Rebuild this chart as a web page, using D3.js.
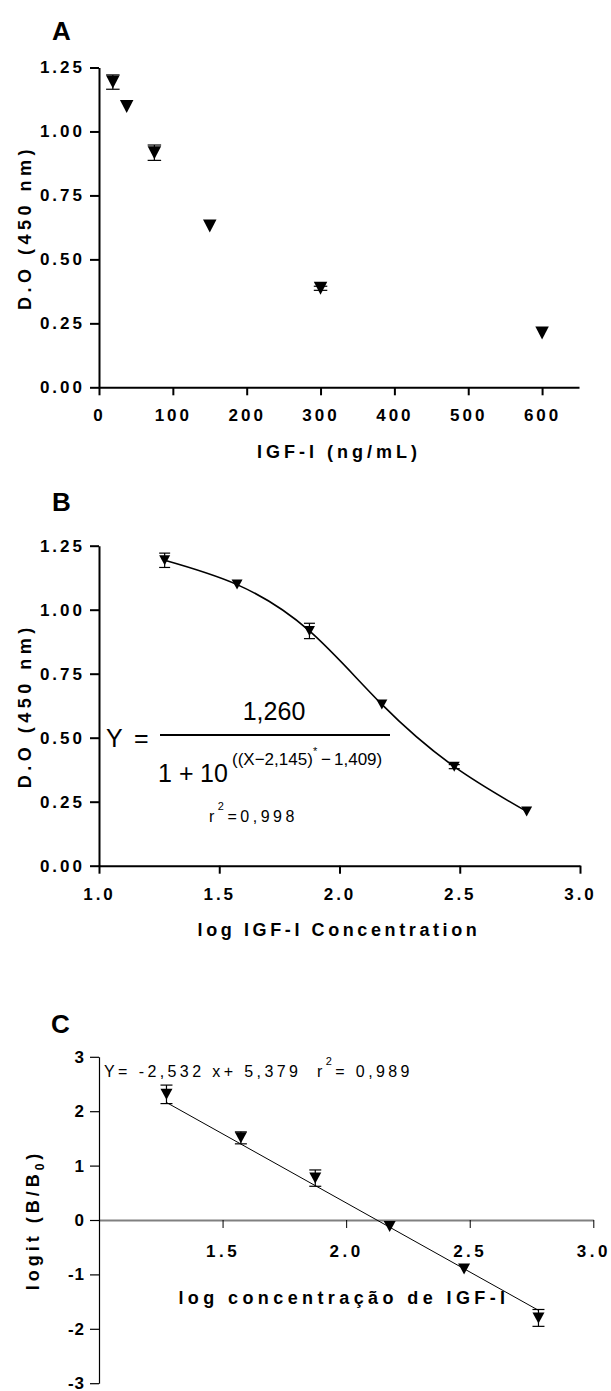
<!DOCTYPE html>
<html>
<head>
<meta charset="utf-8">
<script src="https://cdn.jsdelivr.net/npm/d3@7"></script>
<style>
	body { margin: 0; background: #fff; }
	svg { display: block; }
	text { font-family: "Liberation Sans", Arial, sans-serif; fill: #000; }
</style>
</head>
<body>
<svg id="fig" width="611" height="1391" viewBox="0 0 611 1391"></svg>
<script>
// IGF-I standards (ng/mL)
const conc = [18.75, 37.5, 75, 150, 300, 600];
// optical density at 450 nm, mean and error
const odMean = [1.193, 1.098, 0.917, 0.630, 0.387, 0.212];
const odErr = [0.028, 0, 0.030, 0, 0.008, 0];
// logit(B/B0), mean and error
const logitMean = [2.31, 1.51, 0.77, -0.12, -0.90, -1.80];
const logitErr = [0.17, 0.11, 0.15, 0, 0, 0.155];
// ends of the regression line in panel C
const fitC = [[1.273, 2.16], [2.778, -1.66]];

// tick values
const ticksAx = [0, 100, 200, 300, 400, 500, 600];
const ticksOD = [0, 0.25, 0.5, 0.75, 1, 1.25];
const ticksBx = [1, 1.5, 2, 2.5, 3];
const ticksCx = [1.5, 2, 2.5, 3];
const ticksCy = [-3, -2, -1, 0, 1, 2, 3];

const logConc = conc.map(Math.log10);

const svg = d3.select('#fig');
svg.append('rect').attr('width', 611).attr('height', 1391).attr('fill', '#fff');

function triangle(w, h) {
	return `M${-w/2},${-h/2}L${w/2},${-h/2}L0,${h/2}Z`;
}

// error bars first, markers on top
function drawPoints(xs, means, errs, x, y, w, h) {
	const pts = xs.map((v, i) => ({x: v, m: means[i], e: errs[i]}));
	const g = svg.append('g');
	const bars = g.append('g').attr('stroke', '#000').attr('stroke-width', 1.2);
	pts.filter(d => d.e > 0).forEach(d => {
		const cx = x(d.x);
		bars.append('line').attr('x1', cx).attr('x2', cx)
			.attr('y1', y(d.m - d.e)).attr('y2', y(d.m + d.e));
		[d.m - d.e, d.m + d.e].forEach(v => {
			bars.append('line').attr('x1', cx - w/2).attr('x2', cx + w/2)
				.attr('y1', y(v)).attr('y2', y(v));
		});
	});
	g.selectAll('path.mk').data(pts).join('path')
		.attr('class', 'mk')
		.attr('d', triangle(w, h))
		.attr('transform', d => `translate(${x(d.x)},${y(d.m)})`)
		.attr('fill', '#000');
}

function styleAxis(g, lw, ls) {
	g.attr('font-size', 17).attr('font-weight', 'bold');
	g.select('.domain').attr('stroke-width', lw);
	g.selectAll('.tick line').attr('stroke-width', lw);
	g.selectAll('.tick text').style('letter-spacing', ls + 'px');
}

function label(txt, x, y, opts) {
	const t = svg.append('text').attr('x', x).attr('y', y).text(txt);
	Object.entries(opts || {}).forEach(([k, v]) => t.style(k, v));
	return t;
}

function panelLetter(txt, x, y) {
	label(txt, x, y, {'font-size': '26px', 'font-weight': 'bold'});
}

function yTitle(txt, x, y) {
	return svg.append('text')
		.attr('transform', `translate(${x},${y}) rotate(-90)`)
		.attr('text-anchor', 'middle')
		.style('font-size', '18px').style('font-weight', 'bold')
		.style('letter-spacing', '4.5px')
		.text(txt);
}

function xTitle(txt, x, y, ls) {
	return label(txt, x, y, {'font-size': '18px', 'font-weight': 'bold', 'letter-spacing': ls + 'px'})
		.attr('text-anchor', 'middle');
}

// ---------- panel A ----------
const xA = d3.scaleLinear([0, 650], [99, 579]);
const yA = d3.scaleLinear([0, 1.25], [387.3, 67.5]);

svg.append('g').attr('transform', `translate(0,${yA(0)})`)
	.call(d3.axisBottom(xA).tickValues(ticksAx).tickSize(8).tickSizeOuter(0).tickPadding(14).tickFormat(d3.format('d')))
	.call(g => styleAxis(g, 2, 3));
svg.append('g').attr('transform', `translate(${xA(0)},0)`)
	.call(d3.axisLeft(yA).tickValues(ticksOD).tickSize(9).tickSizeOuter(0).tickPadding(5).tickFormat(d3.format('.2f')))
	.call(g => styleAxis(g, 2, 3));

drawPoints(conc, odMean, odErr, xA, yA, 13.5, 13);

panelLetter('A', 52, 40);
yTitle('D.O (450 nm)', 31, (yA(0) + yA(1.25)) / 2);
xTitle('IGF-I (ng/mL)', 339, 458, 4);

// ---------- panel B ----------
const xB = d3.scaleLinear([1, 3], [99, 580]);
const yB = d3.scaleLinear([0, 1.25], [865.7, 545.7]);

svg.append('g').attr('transform', `translate(0,${yB(0)})`)
	.call(d3.axisBottom(xB).tickValues(ticksBx).tickSize(8).tickSizeOuter(0).tickPadding(14).tickFormat(d3.format('.1f')))
	.call(g => styleAxis(g, 2, 3));
svg.append('g').attr('transform', `translate(${xB(1)},0)`)
	.call(d3.axisLeft(yB).tickValues(ticksOD).tickSize(9).tickSizeOuter(0).tickPadding(5).tickFormat(d3.format('.2f')))
	.call(g => styleAxis(g, 2, 3));

// fitted sigmoid through the standards
svg.append('path')
	.datum(logConc.map((v, i) => [v, odMean[i]]))
	.attr('fill', 'none').attr('stroke', '#000').attr('stroke-width', 1.6)
	.attr('d', d3.line().x(d => xB(d[0])).y(d => yB(d[1])).curve(d3.curveNatural));

drawPoints(logConc, odMean, odErr, xB, yB, 11, 10);

panelLetter('B', 52, 510.5);
yTitle('D.O (450 nm)', 31, (yB(0) + yB(1.25)) / 2);
xTitle('log IGF-I Concentration', 339, 936, 3.6);

// equation of the fit
const eq = {'font-size': '25px'};
label('Y', 106, 746.5, eq);
label('=', 134, 746.5, eq);
svg.append('line').attr('x1', 160).attr('x2', 390).attr('y1', 735).attr('y2', 735)
	.attr('stroke', '#000').attr('stroke-width', 2);
label('1,260', 274, 720, eq).attr('text-anchor', 'middle');
label('1', 158, 781.5, eq);
label('+', 179, 781.5, eq);
label('10', 200, 781.5, eq);
label('((X\u22122,145)', 232, 765, {'font-size': '17px'});
label('*', 313, 755, {'font-size': '11px'});
label('\u2212', 321, 765, {'font-size': '17px'});
label('1,409)', 334, 765, {'font-size': '17px'});

const r2B = label('r', 209, 822.3, {'font-size': '16px', 'letter-spacing': '3.5px'});
r2B.append('tspan').attr('dy', -12).style('font-size', '11px').text('2');
r2B.append('tspan').attr('dy', 12).text('=0,998');

// ---------- panel C ----------
const xC = d3.scaleLinear([1, 3], [99, 593.3]);
const yC = d3.scaleLinear([-3, 3], [1383.2, 1056.8]);

svg.append('g').attr('transform', `translate(0,${yC(0)})`)
	.call(d3.axisBottom(xC).tickValues(ticksCx).tickSize(8).tickSizeOuter(0).tickPadding(17).tickFormat(d3.format('.1f')))
	.call(g => {
		styleAxis(g, 1, 3.5);
		g.select('.domain').attr('stroke', '#808080').attr('stroke-width', 2);
	});
svg.append('g').attr('transform', `translate(${xC(1)},0)`)
	.call(d3.axisLeft(yC).tickValues(ticksCy).tickSize(9).tickSizeOuter(0).tickPadding(5).tickFormat(d => String(d)))
	.call(g => styleAxis(g, 1.2, 1));

svg.append('path')
	.datum(fitC)
	.attr('fill', 'none').attr('stroke', '#000').attr('stroke-width', 1)
	.attr('d', d3.line().x(d => xC(d[0])).y(d => yC(d[1])));

drawPoints(logConc, logitMean, logitErr, xC, yC, 12, 11);

panelLetter('C', 51, 1032.5);

const yt = svg.append('text')
	.attr('transform', `translate(39,${yC(0)}) rotate(-90)`)
	.attr('text-anchor', 'middle')
	.style('font-size', '18px').style('font-weight', 'bold').style('letter-spacing', '4px')
	.text('logit (B/B');
yt.append('tspan').attr('dy', 5).style('font-size', '12px').text('0');
yt.append('tspan').attr('dy', -5).text(')');

xTitle('log concentra\u00e7\u00e3o de IGF-I', 344, 1304, 4.4);

const eqC = label('Y= -2,532 x+ 5,379  r', 104, 1077, {'font-size': '16px', 'letter-spacing': '3.4px', 'white-space': 'pre'});
eqC.append('tspan').attr('dy', -12).style('font-size', '11px').text('2');
eqC.append('tspan').attr('dy', 12).text('= 0,989');
</script>
</body>
</html>
